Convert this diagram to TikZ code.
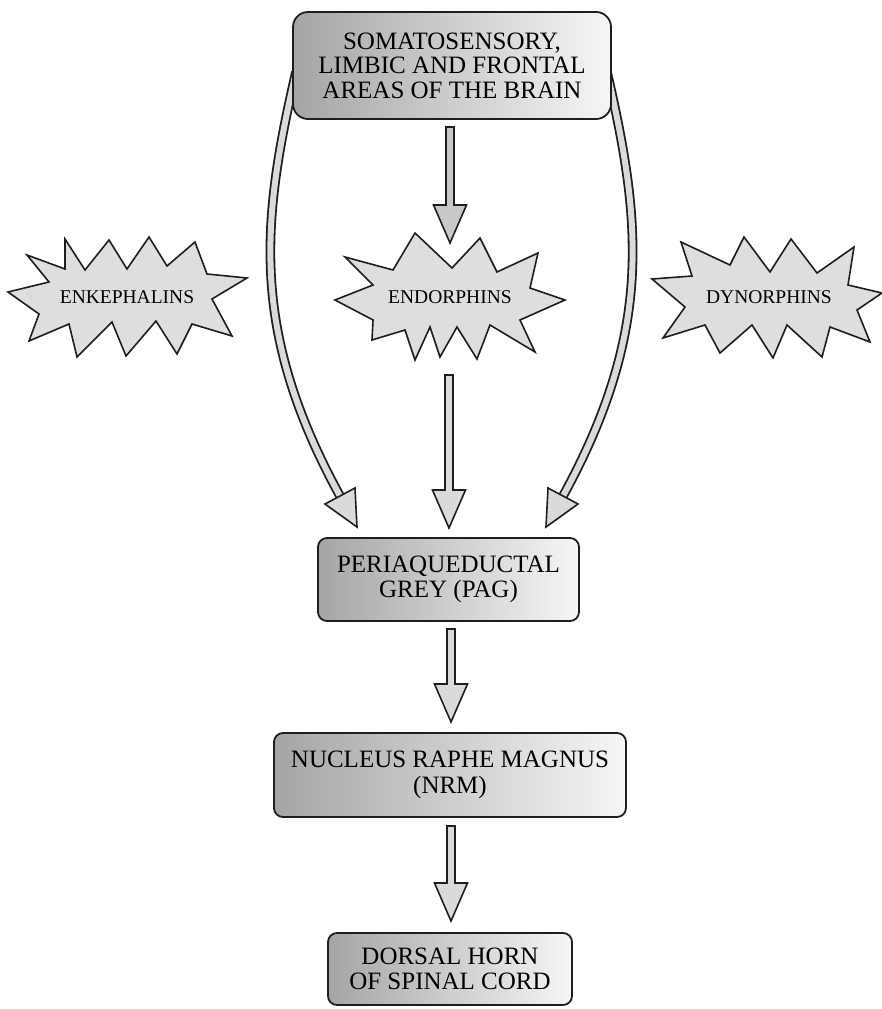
\documentclass[tikz,border=0pt]{standalone}
\usepackage{fontspec}
\setmainfont{Liberation Serif}
\usetikzlibrary{calc}
\definecolor{boxdark}{RGB}{165,165,165}
\definecolor{boxlight}{RGB}{246,246,246}
\definecolor{starfill}{RGB}{222,222,222}
\definecolor{arrfill}{RGB}{218,218,218}
\definecolor{headfill}{RGB}{200,200,200}
\definecolor{ink}{RGB}{30,30,30}
\newcommand\blockarrow[3][arrfill]{%
  \path[blockarr, fill=#1] let \p1=(#2), \p2=(#3) in
    (\x1-4pt,\y1) -- (\x1+4pt,\y1) -- (\x1+4pt,\y2+38pt) -- (\x1+16.5pt,\y2+38pt)
    -- (\x1,\y2) -- (\x1-16.5pt,\y2+38pt) -- (\x1-4pt,\y2+38pt) -- cycle;}
\begin{document}
\begin{tikzpicture}[x=1pt,y=-1pt,
  box/.style={draw=ink, line width=1.8pt, rounded corners=9pt, left color=boxdark,
    right color=boxlight, align=center, inner sep=0pt,
    font=\fontsize{25}{25.5}\selectfont},
  starshape/.style={draw=ink, line width=1.6pt, fill=starfill, line join=miter},
  startext/.style={font=\fontsize{19.5}{20}\selectfont, inner sep=0pt},
  blockarr/.style={draw=ink, line width=1.6pt, fill=arrfill, line join=miter},
  curvearr/.style={draw=ink, line width=1.8pt, double=arrfill, double distance=6pt}
]
\useasboundingbox (0,0) rectangle (882,1009);

% curved arrows (drawn first, box covers their start)
\coordinate (ls) at (296,72);
\coordinate (le) at (340,496);
\coordinate (rs) at (607,72);
\coordinate (re) at (563,496);
\draw[curvearr] (ls) .. controls (262,220) and (249,330) .. (le);
\draw[curvearr] (rs) .. controls (641,220) and (654,330) .. (re);

% top box
\node[box, rounded corners=15pt, minimum width=318pt, minimum height=107pt,
  font=\fontsize{25}{24.5}\selectfont] (top) at (452,65.5)
  {SOMATOSENSORY,\\LIMBIC AND FRONTAL\\AREAS OF THE BRAIN};

% heads of curved arrows
\path[blockarr] (le) -- (325,504) -- (357,527) -- (355,488) -- cycle;
\path[blockarr] (re) -- (578,504) -- (546,527) -- (548,488) -- cycle;

% stars
\coordinate (enkc) at (127,297);
\coordinate (endc) at (450,297);
\coordinate (dync) at (769,297);
\draw[starshape, shift={(enkc)}] (-119,-5) -- (-78,-15) -- (-100,-42) -- (-62,-28)
  -- (-62,-58) -- (-42,-27) -- (-18,-57) -- (0,-28) -- (22,-60) -- (40,-31)
  -- (68,-55) -- (80,-23) -- (120,-19) -- (85,2) -- (105,39) -- (65,27)
  -- (50,57) -- (29,24) -- (-1,59) -- (-15,25) -- (-50,60) -- (-58,27)
  -- (-98,44) -- (-88,17) -- cycle;
\draw[starshape, shift={(endc)}] (-115,3) -- (-77,-12) -- (-105,-40) -- (-57,-27)
  -- (-35,-64) -- (2,-29) -- (30,-59) -- (47,-25) -- (88,-44) -- (80,-9)
  -- (115,3) -- (70,23) -- (85,55) -- (40,28) -- (27,62) -- (7,30)
  -- (-10,60) -- (-20,30) -- (-35,63) -- (-45,33) -- (-78,43) -- (-77,23) -- cycle;
\draw[starshape, shift={(dync)}] (-117,-18) -- (-77,-21) -- (-88,-55) -- (-39,-32)
  -- (-25,-60) -- (1,-25) -- (22,-58) -- (48,-24) -- (85,-50) -- (79,-12)
  -- (113,-4) -- (88,13) -- (101,45) -- (61,30) -- (53,60) -- (18,28)
  -- (4,61) -- (-17,28) -- (-49,56) -- (-64,28) -- (-106,41) -- (-84,10) -- cycle;
\node[startext] (enk) at (enkc) {ENKEPHALINS};
\node[startext] (endo) at (endc) {ENDORPHINS};
\node[startext] (dyn) at (dync) {DYNORPHINS};

% lower boxes
\node[box, minimum width=261pt, minimum height=83pt] (pag) at (448.5,579.5)
  {PERIAQUEDUCTAL\\GREY (PAG)};
\node[box, minimum width=352pt, minimum height=84pt] (nrm) at (450,775)
  {NUCLEUS RAPHE MAGNUS\\(NRM)};
\node[box, minimum width=244pt, minimum height=72pt] (dh) at (450,969)
  {DORSAL HORN\\OF SPINAL CORD};

% straight block arrows
\coordinate (a1s) at (450,127);
\coordinate (a1t) at (450,243);
\coordinate (a2s) at (449,375);
\coordinate (a2t) at (449,528);
\coordinate (a3s) at (451,629);
\coordinate (a3t) at (451,722);
\coordinate (a4s) at (451,826);
\coordinate (a4t) at (451,921);
\blockarrow[headfill]{a1s}{a1t}
\blockarrow{a2s}{a2t}
\blockarrow{a3s}{a3t}
\blockarrow{a4s}{a4t}
\end{tikzpicture}
\end{document}
